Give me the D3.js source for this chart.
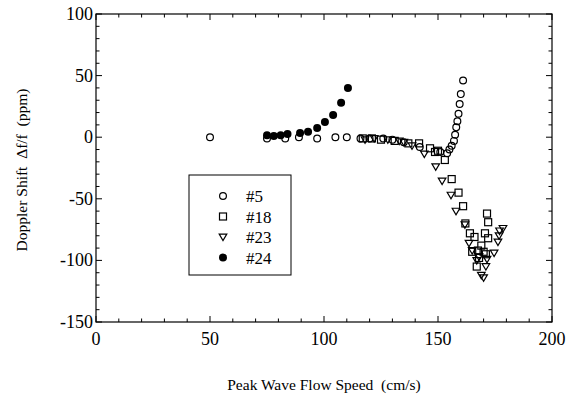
<!DOCTYPE html>
<html>
<head>
<meta charset="utf-8">
<script src="https://cdn.jsdelivr.net/npm/d3@7"></script>
<style>
  body { margin: 0; background: #fff; }
</style>
</head>
<body>
<div id="chart"></div>
<script>
// series #5 (open circles)
const run5 = [
  [50, 0], [75, -1], [83, -1], [89, 0], [97, -1], [105, 0], [110, 0],
  [116, -1], [120, -1], [126, -1], [130, -2], [135, -4], [142, -8],
  [151, -12], [154, -13], [155, -10], [156, -7], [157, -3], [157.5, 2],
  [158, 8], [158.5, 13], [159, 19], [159.5, 27], [160, 35], [161, 46]
]
// series #18 (open squares)
const run18 = [
  [117, -1], [121, -1], [125, -2], [131, -3], [137, -5], [141.7, -5],
  [146.5, -9], [148.7, -12], [150, -11], [153, -18.5], [156, -34], [159, -45],
  [161, -56], [162, -70], [164, -78], [166, -81], [170.6, -78], [172, -82],
  [171.5, -62], [172, -69], [165, -93], [167.5, -92], [170, -93], [168, -98],
  [167, -105], [171, -95], [169, -88]
]
// series #23 (open triangles)
const run23 = [
  [118, -2], [122, -1], [128, -2], [133, -3], [135, -4], [138.6, -7],
  [144, -13.6], [149, -24], [151.8, -35.5], [155.7, -47], [157.9, -60],
  [161.8, -71], [163.6, -86], [165, -92], [168, -97], [171.5, -99],
  [171, -105], [169, -112], [170, -114], [174.6, -94], [176.3, -85],
  [176.8, -80], [177, -76], [178.5, -74], [167, -100]
]
// series #24 (filled circles)
const run24 = [
  [75, 1.5], [78, 1], [81, 1.5], [84, 2.5], [89.5, 3.5], [93, 4.5],
  [97, 7.5], [100.4, 12.3], [104, 18], [107.5, 28], [110.5, 40]
]

const xTicks = [0, 50, 100, 150, 200]
const yTicks = [-150, -100, -50, 0, 50, 100]
const legendNames = ['#5', '#18', '#23', '#24']

const W = 574, H = 398
const margin = { left: 96, right: 22, top: 14, bottom: 76 }
const serif = "'Liberation Serif', 'Times New Roman', serif"

const svg = d3.select('#chart').append('svg')
  .attr('width', W).attr('height', H)
  .attr('font-family', serif)

const x = d3.scaleLinear().domain([0, 200]).range([margin.left, W - margin.right])
const y = d3.scaleLinear().domain([-150, 100]).range([H - margin.bottom, margin.top])

// frame
svg.append('rect')
  .attr('x', x(0)).attr('y', y(100))
  .attr('width', x(200) - x(0)).attr('height', y(-150) - y(100))
  .attr('fill', 'none').attr('stroke', '#000').attr('stroke-width', 1.2)

// inward ticks on all four sides, minor every 10
const minorX = d3.range(0, 201, 10)
const minorY = d3.range(-150, 101, 10)
const tickLen = (major) => (major ? 6 : 3.5)

const tg = svg.append('g').attr('stroke', '#000').attr('stroke-width', 1)
minorX.forEach((v) => {
  const L = tickLen(v % 50 === 0)
  tg.append('line').attr('x1', x(v)).attr('x2', x(v))
    .attr('y1', y(-150)).attr('y2', y(-150) - L)
  tg.append('line').attr('x1', x(v)).attr('x2', x(v))
    .attr('y1', y(100)).attr('y2', y(100) + L)
})
minorY.forEach((v) => {
  const L = tickLen(v % 50 === 0)
  tg.append('line').attr('y1', y(v)).attr('y2', y(v))
    .attr('x1', x(0)).attr('x2', x(0) + L)
  tg.append('line').attr('y1', y(v)).attr('y2', y(v))
    .attr('x1', x(200)).attr('x2', x(200) - L)
})

// tick labels
svg.append('g').selectAll('text').data(xTicks).enter().append('text')
  .attr('x', (d) => x(d)).attr('y', y(-150) + 23)
  .attr('text-anchor', 'middle').attr('font-size', 18)
  .text((d) => d)

svg.append('g').selectAll('text').data(yTicks).enter().append('text')
  .attr('x', x(0) - 3).attr('y', (d) => y(d) + 6)
  .attr('text-anchor', 'end').attr('font-size', 18)
  .text((d) => d)

// axis titles
svg.append('text')
  .attr('x', (x(0) + x(200)) / 2).attr('y', 390)
  .attr('text-anchor', 'middle').attr('font-size', 15.5)
  .attr('xml:space', 'preserve')
  .text('Peak Wave Flow Speed  (cm/s)')

svg.append('text')
  .attr('transform', 'translate(27,' + (y(-25) + 2) + ') rotate(-90)')
  .attr('text-anchor', 'middle').attr('font-size', 15.5)
  .attr('xml:space', 'preserve')
  .text('Doppler Shift  \u0394f/f  (ppm)')

// marker drawing helpers
function circleOpen(g, px, py) {
  g.append('circle').attr('cx', px).attr('cy', py).attr('r', 3.4)
    .attr('fill', 'none').attr('stroke', '#000').attr('stroke-width', 1.2)
}
function squareOpen(g, px, py) {
  g.append('rect').attr('x', px - 3.5).attr('y', py - 3.5)
    .attr('width', 7).attr('height', 7)
    .attr('fill', 'none').attr('stroke', '#000').attr('stroke-width', 1.2)
}
function triOpen(g, px, py) {
  const s = 3.8
  g.append('path')
    .attr('d', `M${px - s},${py - s * 0.75}L${px + s},${py - s * 0.75}L${px},${py + s * 0.95}Z`)
    .attr('fill', 'none').attr('stroke', '#000').attr('stroke-width', 1.2)
}
function circleFilled(g, px, py) {
  g.append('circle').attr('cx', px).attr('cy', py).attr('r', 4)
    .attr('fill', '#000')
}

const series = [
  { data: run5, mark: circleOpen },
  { data: run18, mark: squareOpen },
  { data: run23, mark: triOpen },
  { data: run24, mark: circleFilled },
]

const pts = svg.append('g')
series.forEach((s) => {
  s.data.forEach((d) => s.mark(pts, x(d[0]), y(d[1])))
})

// legend
const lg = svg.append('g')
lg.append('rect')
  .attr('x', 189).attr('y', 175).attr('width', 102).attr('height', 100)
  .attr('fill', '#fff').attr('stroke', '#000').attr('stroke-width', 1)
legendNames.forEach((name, i) => {
  const cy = 196 + i * 20.5
  series[i].mark(lg, 223, cy)
  lg.append('text').attr('x', 246).attr('y', cy + 6)
    .attr('font-size', 17).text(name)
})
</script>
</body>
</html>
